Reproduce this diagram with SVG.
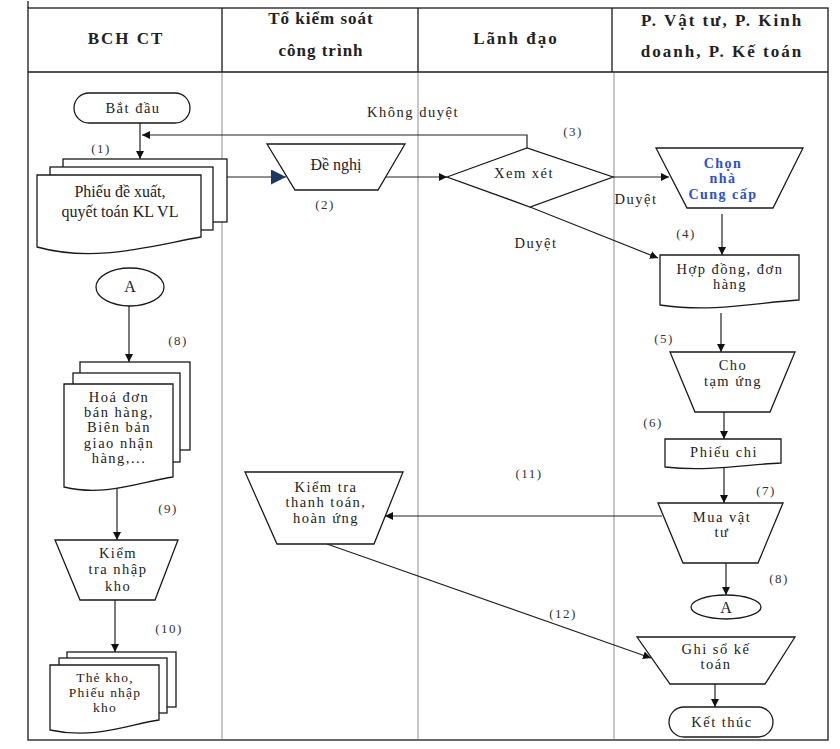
<svg xmlns="http://www.w3.org/2000/svg" width="840" height="749" viewBox="0 0 840 749">
  <style>
    .frame { fill: none; stroke: #1a1a1a; stroke-width: 1.3; }
    .lane { stroke: #b9b9b9; stroke-width: 1.6; }
    .hdr { font-family: "Liberation Serif", "DejaVu Serif", serif; font-size: 17px; font-weight: bold; letter-spacing: 2px; fill: #222; text-anchor: middle; }
    .tight { letter-spacing: 1px; }
    .shape { fill: #fff; stroke: #1a1a1a; stroke-width: 1.3; }
    .txt { font-family: "Liberation Serif", "DejaVu Serif", serif; font-size: 14.5px; letter-spacing: 1.5px; fill: #222; text-anchor: middle; }
    .small { font-size: 13.5px; letter-spacing: 1.2px; }
    .big { font-size: 16px; letter-spacing: 0; }
    .blue { fill: #2b4fd6; font-weight: bold; font-size: 14px; }
    .lbl { font-family: "Liberation Serif", "DejaVu Serif", serif; font-size: 13px; letter-spacing: 1.5px; fill: #333; text-anchor: middle; }
    .edge { fill: none; stroke: #222; stroke-width: 1.2; }
  </style>
  <defs>
    <marker id="arr" viewBox="0 0 10 10" refX="10" refY="5" markerWidth="8" markerHeight="8" markerUnits="userSpaceOnUse" orient="auto">
      <path d="M0,0 L10,5 L0,10 Z" fill="#111"/>
    </marker>
    <marker id="arrNavy" viewBox="0 0 10 10" refX="10" refY="5" markerWidth="15" markerHeight="15" markerUnits="userSpaceOnUse" orient="auto">
      <path d="M0,0 L10,5 L0,10 Z" fill="#1b3766"/>
    </marker>
  </defs>

  <rect width="840" height="749" fill="#fff"/>

  <!-- swimlane frame and header -->
  <g id="lanes">
    <rect class="frame" x="28" y="8" width="800" height="732"/>
    <line class="frame" x1="28" y1="1" x2="28" y2="8"/>
    <line class="frame" x1="28" y1="72" x2="828" y2="72"/>
    <line class="frame" x1="222" y1="8" x2="222" y2="72"/>
    <line class="frame" x1="418" y1="8" x2="418" y2="72"/>
    <line class="frame" x1="612" y1="8" x2="612" y2="72"/>
    <line class="lane" x1="222" y1="73" x2="222" y2="739"/>
    <line class="lane" x1="418" y1="73" x2="418" y2="739"/>
    <line class="lane" x1="614" y1="73" x2="614" y2="739"/>
    <text class="hdr" x="126" y="44">BCH CT</text>
    <text class="hdr tight" x="321" y="24">Tổ kiểm soát</text>
    <text class="hdr tight" x="321" y="56">công trình</text>
    <text class="hdr" x="516" y="44">Lãnh đạo</text>
    <text class="hdr" x="722" y="26">P. Vật tư, P. Kinh</text>
    <text class="hdr" x="722" y="57">doanh, P. Kế toán</text>
  </g>

  <!-- connectors -->
  <g id="connectors">
    <line class="edge" x1="140" y1="123" x2="140" y2="159" marker-end="url(#arr)"/>
    <polyline class="edge" points="527,148 527,135 142,135" marker-end="url(#arr)"/>
    <line class="edge" x1="227" y1="177" x2="286" y2="177" marker-end="url(#arrNavy)"/>
    <line class="edge" x1="386" y1="177" x2="447" y2="177" marker-end="url(#arr)"/>
    <line class="edge" x1="613" y1="177" x2="669" y2="177" marker-end="url(#arr)"/>
    <line class="edge" x1="530" y1="207" x2="658" y2="258" marker-end="url(#arr)"/>
    <line class="edge" x1="722" y1="214" x2="722" y2="255" marker-end="url(#arr)"/>
    <line class="edge" x1="721" y1="313" x2="721" y2="352" marker-end="url(#arr)"/>
    <line class="edge" x1="724" y1="412" x2="724" y2="439" marker-end="url(#arr)"/>
    <line class="edge" x1="724" y1="467" x2="724" y2="503" marker-end="url(#arr)"/>
    <line class="edge" x1="662" y1="516" x2="385" y2="516" marker-end="url(#arr)"/>
    <line class="edge" x1="726" y1="563" x2="726" y2="595" marker-end="url(#arr)"/>
    <line class="edge" x1="327" y1="544" x2="651" y2="658" marker-end="url(#arr)"/>
    <line class="edge" x1="715" y1="684" x2="715" y2="707" marker-end="url(#arr)"/>
    <line class="edge" x1="129" y1="306" x2="129" y2="362" marker-end="url(#arr)"/>
    <line class="edge" x1="117" y1="487" x2="117" y2="540" marker-end="url(#arr)"/>
    <line class="edge" x1="115" y1="600" x2="115" y2="652" marker-end="url(#arr)"/>

    <text class="lbl" x="101" y="153">(1)</text>
    <text class="lbl" x="325" y="209">(2)</text>
    <text class="lbl" x="573" y="136">(3)</text>
    <text class="lbl" x="686" y="238">(4)</text>
    <text class="lbl" x="664" y="343">(5)</text>
    <text class="lbl" x="653" y="427">(6)</text>
    <text class="lbl" x="766" y="495">(7)</text>
    <text class="lbl" x="779" y="583">(8)</text>
    <text class="lbl" x="178" y="345">(8)</text>
    <text class="lbl" x="168" y="513">(9)</text>
    <text class="lbl" x="169" y="633">(10)</text>
    <text class="lbl" x="529" y="478">(11)</text>
    <text class="lbl" x="563" y="618">(12)</text>
    <text class="txt" x="413" y="117">Không duyệt</text>
    <text class="txt" x="636" y="204">Duyệt</text>
    <text class="txt" x="536" y="248">Duyệt</text>
  </g>

  <!-- BCH CT lane -->
  <g id="start">
    <rect class="shape" x="74" y="93" width="116" height="30" rx="15"/>
    <text class="txt" x="133" y="113">Bắt đầu</text>
  </g>

  <g id="phieu-de-xuat">
    <rect class="shape" x="63" y="159" width="164" height="63"/>
    <rect class="shape" x="50" y="167" width="163" height="63"/>
    <path class="shape" d="M37,175 H201 V237 C150,246 95,263 37,247 Z"/>
    <text class="txt big" x="120" y="197">Phiếu đề xuất,</text>
    <text class="txt big" x="120" y="217">quyết toán KL VL</text>
  </g>

  <g id="connector-a-left">
    <ellipse class="shape" cx="130" cy="287" rx="34" ry="19"/>
    <text class="txt big" x="130" y="292">A</text>
  </g>

  <g id="hoa-don">
    <rect class="shape" x="80" y="362" width="110" height="88"/>
    <rect class="shape" x="73" y="373" width="107" height="89"/>
    <path class="shape" d="M64,384 H173 V477 C140,482 105,497 64,487 Z"/>
    <text class="txt" x="119" y="402">Hoá đơn</text>
    <text class="txt" x="119" y="417">bán hàng,</text>
    <text class="txt" x="119" y="432">Biên bản</text>
    <text class="txt" x="119" y="448">giao nhận</text>
    <text class="txt" x="119" y="463">hàng,...</text>
  </g>

  <g id="kiem-tra-nhap-kho">
    <path class="shape" d="M55,540 H178 L155,600 H80 Z"/>
    <text class="txt" x="118" y="558">Kiểm</text>
    <text class="txt" x="118" y="574">tra nhập</text>
    <text class="txt" x="118" y="591">kho</text>
  </g>

  <g id="the-kho">
    <rect class="shape" x="67" y="652" width="109" height="55"/>
    <rect class="shape" x="59" y="658" width="108" height="55"/>
    <path class="shape" d="M50,665 H159 V720 C130,724 95,740 50,730 Z"/>
    <text class="txt small" x="105" y="682">Thẻ kho,</text>
    <text class="txt small" x="105" y="697">Phiếu nhập</text>
    <text class="txt small" x="105" y="712">kho</text>
  </g>

  <!-- Tổ kiểm soát lane -->
  <g id="de-nghi">
    <path class="shape" d="M267,144 H405 L378,190 H295 Z"/>
    <text class="txt big" x="336" y="170">Đề nghị</text>
  </g>

  <g id="kiem-tra-thanh-toan">
    <path class="shape" d="M245,472 H403 L374,544 H277 Z"/>
    <text class="txt" x="326" y="492">Kiểm tra</text>
    <text class="txt" x="326" y="507">thanh toán,</text>
    <text class="txt" x="326" y="523">hoàn ứng</text>
  </g>

  <!-- Lãnh đạo lane -->
  <g id="xem-xet">
    <path class="shape" d="M447,177 L527,148 L613,177 L530,207 Z"/>
    <text class="txt" x="524" y="178">Xem xét</text>
  </g>

  <!-- Phòng ban lane -->
  <g id="chon-nha-cung-cap">
    <path class="shape" d="M656,148 H803 L773,208 H687 Z"/>
    <text class="txt blue" x="723" y="168">Chọn</text>
    <text class="txt blue" x="723" y="183">nhà</text>
    <text class="txt blue" x="723" y="199">Cung cấp</text>
  </g>

  <g id="hop-dong">
    <path class="shape" d="M660,255 H799 V300 C760,302 715,313 660,305 Z"/>
    <text class="txt" x="730" y="274">Hợp đồng, đơn</text>
    <text class="txt" x="730" y="289">hàng</text>
  </g>

  <g id="cho-tam-ung">
    <path class="shape" d="M670,352 H795 L770,412 H695 Z"/>
    <text class="txt" x="733" y="370">Cho</text>
    <text class="txt" x="733" y="386">tạm ứng</text>
  </g>

  <g id="phieu-chi">
    <path class="shape" d="M665,439 H781 V463 C750,464 710,472 665,467 Z"/>
    <text class="txt" x="724" y="457">Phiếu chi</text>
  </g>

  <g id="mua-vat-tu">
    <path class="shape" d="M658,503 H783 L758,563 H683 Z"/>
    <text class="txt" x="722" y="522">Mua vật</text>
    <text class="txt" x="722" y="537">tư</text>
  </g>

  <g id="connector-a-right">
    <ellipse class="shape" cx="726" cy="607" rx="35" ry="12"/>
    <text class="txt big" x="726" y="613">A</text>
  </g>

  <g id="ghi-so-ke-toan">
    <path class="shape" d="M637,637 H795 L765,684 H670 Z"/>
    <text class="txt" x="716" y="654">Ghi sổ kế</text>
    <text class="txt" x="716" y="669">toán</text>
  </g>

  <g id="end">
    <rect class="shape" x="669" y="707" width="104" height="30" rx="15"/>
    <text class="txt" x="722" y="727">Kết thúc</text>
  </g>
</svg>
